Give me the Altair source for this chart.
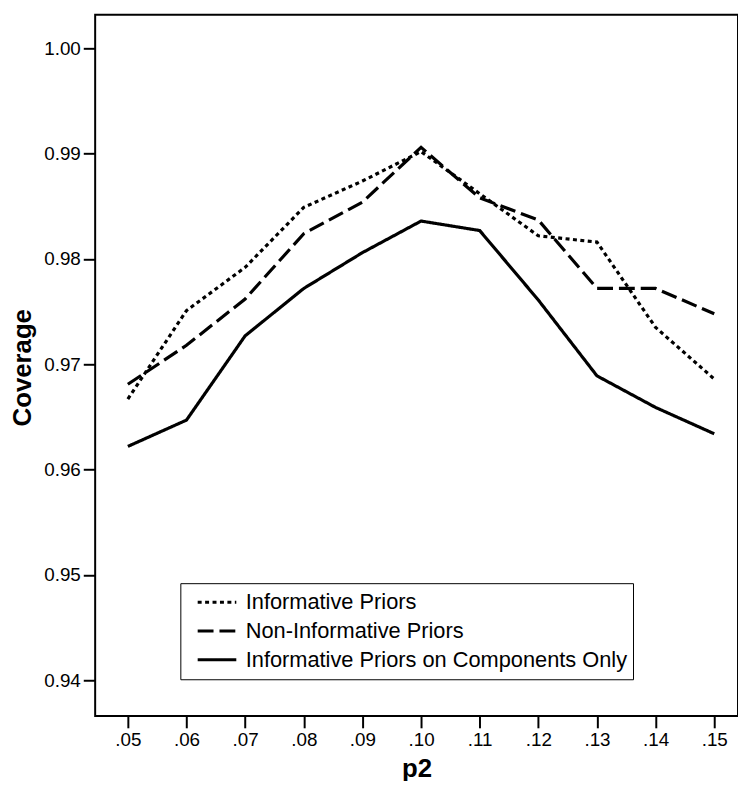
import altair as alt
import pandas as pd

p2 = [0.05, 0.06, 0.07, 0.08, 0.09, 0.10, 0.11, 0.12, 0.13, 0.14, 0.15]
series_names = [
    "Informative Priors",
    "Non-Informative Priors",
    "Informative Priors on Components Only",
]
informative = [0.9667, 0.9751, 0.9792, 0.9849, 0.9874, 0.9902, 0.9862, 0.9822, 0.9816, 0.9735, 0.9686]
non_informative = [0.9681, 0.9718, 0.9762, 0.9824, 0.9854, 0.9906, 0.9858, 0.9837, 0.9772, 0.9772, 0.9748]
components_only = [0.9622, 0.9647, 0.9727, 0.9772, 0.9806, 0.9836, 0.9827, 0.9761, 0.9689, 0.9659, 0.9634]
y_ticks = [0.94, 0.95, 0.96, 0.97, 0.98, 0.99, 1.00]

rows = []
for name, vals in zip(series_names, [informative, non_informative, components_only]):
    for x, v in zip(p2, vals):
        rows.append({"p2": x, "Coverage": v, "series": name})
df = pd.DataFrame(rows)

FONT = "Liberation Sans"

chart = (
    alt.Chart(df)
    .mark_line(color="black", strokeWidth=3.2)
    .encode(
        x=alt.X(
            "p2:Q",
            scale=alt.Scale(domain=[0.044426, 0.15405], nice=False, zero=False),
            axis=alt.Axis(
                values=p2,
                labelExpr="substring(format(datum.value, '.2f'), 1)",
                title="p2",
                grid=False,
                domain=False,
                tickSize=12,
                tickWidth=2,
                tickColor="black",
                labelColor="black",
                labelFont=FONT,
                labelFontSize=19,
                labelPadding=3,
                titleFont=FONT,
                titleFontSize=26,
                titleFontWeight="bold",
                titleColor="black",
                titlePadding=6,
            ),
        ),
        y=alt.Y(
            "Coverage:Q",
            scale=alt.Scale(domain=[0.93661, 1.0032], nice=False, zero=False),
            axis=alt.Axis(
                values=y_ticks,
                format=".2f",
                title="Coverage",
                grid=False,
                domain=False,
                tickSize=12,
                tickWidth=2,
                tickColor="black",
                labelColor="black",
                labelFont=FONT,
                labelFontSize=19,
                labelPadding=3,
                titleFont=FONT,
                titleFontSize=26,
                titleFontWeight="bold",
                titleColor="black",
                titleX=-60,
                titleY=356,
            ),
        ),
        strokeDash=alt.StrokeDash(
            "series:N",
            scale=alt.Scale(domain=series_names, range=[[4, 3.5], [16, 6], [1, 0]]),
            legend=alt.Legend(
                orient="none",
                legendX=86,
                legendY=574,
                title=None,
                symbolType="stroke",
                symbolSize=1521,
                symbolStrokeWidth=3,
                symbolStrokeColor="black",
                symbolOffset=11,
                labelFont=FONT,
                labelFontSize=22,
                labelColor="black",
                labelLimit=600,
                labelOffset=8,
                padding=5,
                rowPadding=0,
                clipHeight=28.5,
                strokeColor="black",
                fillColor="white",
                cornerRadius=0,
            ),
        ),
        detail="series:N",
    )
    .properties(
        width=649,
        height=708,
        padding={"left": 88, "top": 3, "right": 0, "bottom": 62},
        autosize=alt.AutoSizeParams(type="none"),
    )
    .configure(background="white")
    .configure_view(stroke="black", strokeWidth=2)
)

chart.save("out.html", embed_options={"renderer": "svg", "actions": False})
